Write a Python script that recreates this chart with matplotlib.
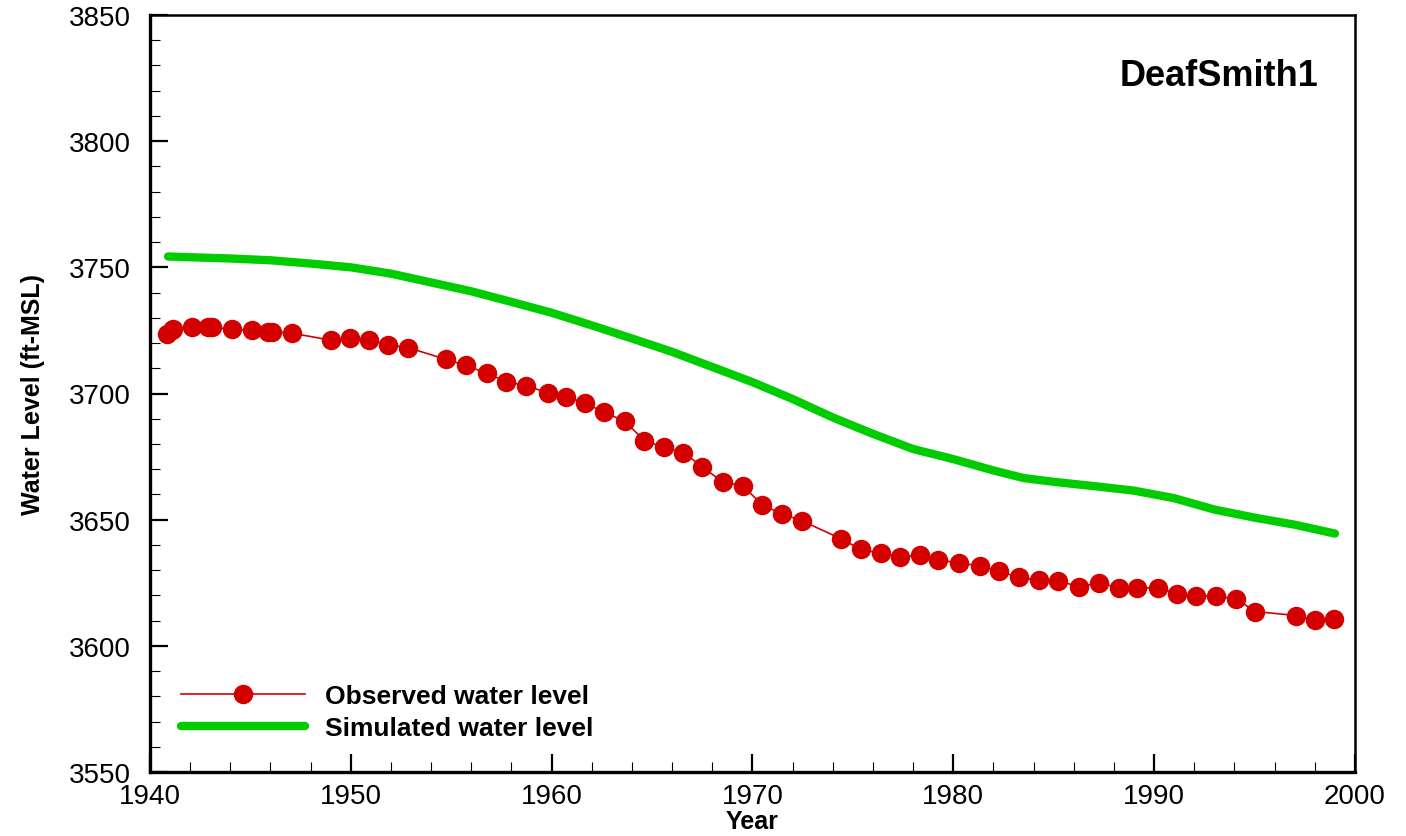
import matplotlib
matplotlib.use('Agg')
import matplotlib.pyplot as plt
from matplotlib.ticker import MultipleLocator

plt.rcParams['font.family'] = ['Liberation Sans', 'DejaVu Sans']

# observed water level (ft-MSL)
obs_year = [1940.83, 1941.08, 1941.16, 1942.07, 1942.90, 1943.10, 1944.06, 1945.09,
            1945.88, 1946.05, 1947.07, 1949.03, 1949.98, 1950.89, 1951.87, 1952.84,
            1954.75, 1955.74, 1956.77, 1957.73, 1958.73, 1959.83, 1960.71, 1961.66,
            1962.62, 1963.63, 1964.62, 1965.57, 1966.56, 1967.50, 1968.52, 1969.51,
            1970.49, 1971.47, 1972.48, 1974.41, 1975.41, 1976.39, 1977.35, 1978.36,
            1979.22, 1980.30, 1981.32, 1982.27, 1983.25, 1984.28, 1985.22, 1986.26,
            1987.26, 1988.25, 1989.16, 1990.19, 1991.15, 1992.08, 1993.07, 1994.07,
            1995.04, 1997.07, 1997.99, 1998.95]
obs_level = [3723.4, 3725.1, 3725.4, 3726.2, 3726.3, 3726.3, 3725.4, 3725.0,
             3724.3, 3724.5, 3723.9, 3721.1, 3722.1, 3721.4, 3719.2, 3718.2,
             3713.5, 3711.1, 3708.0, 3704.7, 3703.1, 3700.2, 3698.7, 3696.2,
             3692.5, 3689.1, 3681.3, 3678.7, 3676.6, 3671.0, 3664.8, 3663.5,
             3655.8, 3652.3, 3649.5, 3642.4, 3638.2, 3636.6, 3635.4, 3635.8,
             3634.2, 3632.7, 3631.8, 3629.5, 3627.2, 3625.9, 3625.7, 3623.5,
             3624.9, 3623.1, 3623.1, 3622.8, 3620.7, 3619.8, 3619.7, 3618.6,
             3613.6, 3612.0, 3610.1, 3610.5]

# simulated water level
sim_year = [1940.9, 1942, 1944, 1946, 1948, 1950, 1952, 1954, 1956, 1958, 1960,
            1962, 1964, 1966, 1968, 1970, 1972, 1974, 1976, 1978, 1980, 1982,
            1983.5, 1985, 1987, 1989, 1991, 1993, 1995, 1997, 1999]
sim_level = [3754.3, 3754.0, 3753.5, 3752.8, 3751.5, 3750.0, 3747.5, 3744.0, 3740.5,
             3736.3, 3732.0, 3727.0, 3721.8, 3716.5, 3710.5, 3704.5, 3697.8, 3690.5,
             3684.0, 3678.0, 3674.0, 3669.5, 3666.5, 3665.0, 3663.3, 3661.5, 3658.5,
             3654.0, 3650.8, 3648.0, 3644.5]

fig = plt.figure(figsize=(14.06, 8.37), dpi=100)
ax = fig.add_axes([150 / 1406, 1 - 773 / 837, (1355 - 150) / 1406, (773 - 16) / 837])

ax.plot(obs_year, obs_level, '-o', color='#d40000', lw=1.2, ms=13,
        label='Observed water level', zorder=3)
ax.plot(sim_year, sim_level, '-', color='#00cc00', lw=6, solid_capstyle='round',
        label='Simulated water level', zorder=2)

ax.set_xlim(1940, 2000)
ax.set_ylim(3550, 3850)
ax.xaxis.set_major_locator(MultipleLocator(10))
ax.xaxis.set_minor_locator(MultipleLocator(2))
ax.yaxis.set_major_locator(MultipleLocator(50))
ax.yaxis.set_minor_locator(MultipleLocator(10))
ax.tick_params(which='major', direction='in', length=13, width=1.6, labelsize=20)
ax.tick_params(axis='y', which='major', pad=14)
ax.tick_params(axis='x', which='major', pad=8)
ax.tick_params(which='minor', direction='in', length=7.5, width=0.8)
ax.tick_params(top=False, right=False, which='both')

for side in ['left', 'bottom']:
    ax.spines[side].set_linewidth(2.4)
for side in ['top', 'right']:
    ax.spines[side].set_linewidth(1.8)

ax.set_xlabel('Year', fontsize=18, fontweight='bold', labelpad=0)
ax.set_ylabel('Water Level (ft-MSL)', fontsize=18, fontweight='bold', labelpad=17,
              family=['Liberation Sans Narrow', 'Liberation Sans'])

ax.text(0.97, 0.92, 'DeafSmith1', transform=ax.transAxes, ha='right', va='center',
        fontsize=26, fontweight='bold')

leg = ax.legend(loc='lower left', bbox_to_anchor=(0.006, 0.011), frameon=False,
                prop={'size': 19, 'weight': 'bold'}, handlelength=4.7,
                handletextpad=0.75, labelspacing=0.3, markerscale=1.0)

fig.savefig('out.png', dpi=100)
